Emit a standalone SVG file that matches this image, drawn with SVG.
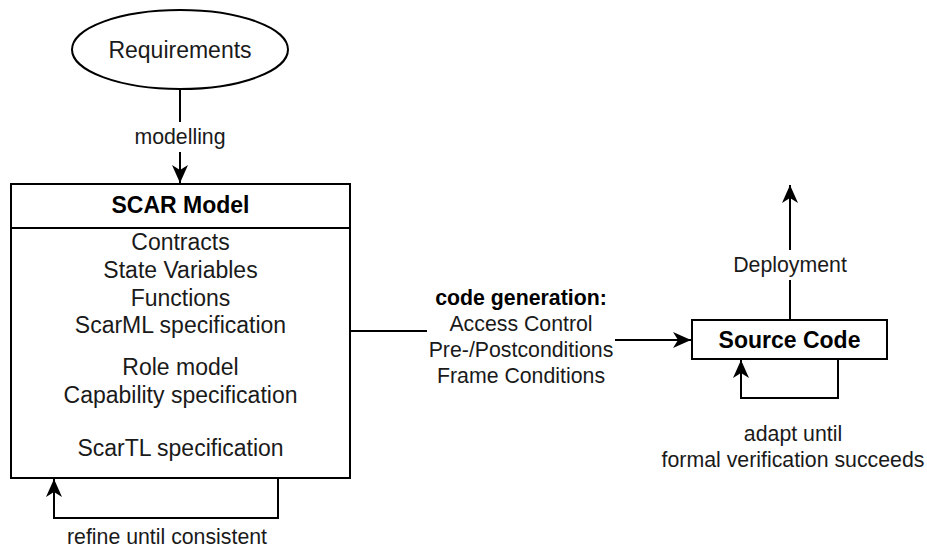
<svg xmlns="http://www.w3.org/2000/svg" width="927" height="550" viewBox="0 0 927 550">
<style>
.shape{fill:#fff;stroke:#000;stroke-width:2}
.edge{fill:none;stroke:#000;stroke-width:2}
text{font-family:"Liberation Sans",Arial,sans-serif;fill:#1a1a1a;text-anchor:middle;dominant-baseline:central}
.n{font-size:23px}
.l{font-size:21.3px}
.b{font-weight:bold;fill:#000}
</style>
<defs>
<marker id="arr" markerUnits="userSpaceOnUse" markerWidth="24" markerHeight="20" viewBox="-20 -10 24 20" refX="0" refY="0" orient="auto">
<path d="M0,0 L-18,-8 L-13,0 L-18,8 Z" fill="#000"/>
</marker>
</defs>
<g id="connectors">
<path class="edge" d="M180,89 V183" marker-end="url(#arr)"/>
<rect x="133" y="122" width="94" height="30" fill="#fff"/>
<text class="l" x="180" y="136.5">modelling</text>
<path class="edge" d="M350,331 H521 V340 H691" marker-end="url(#arr)"/>
<rect x="427" y="284" width="188" height="106" fill="#fff"/>
<text class="l b" x="521" y="298">code generation:</text>
<text class="l" x="521" y="323.5">Access Control</text>
<text class="l" x="521" y="349.5">Pre-/Postconditions</text>
<text class="l" x="521" y="375.5">Frame Conditions</text>
<path class="edge" d="M278,478 V518 H54 V479" marker-end="url(#arr)"/>
<text class="l" x="167" y="537">refine until consistent</text>
<path class="edge" d="M790,320 V185" marker-end="url(#arr)"/>
<rect x="732" y="250" width="116" height="30" fill="#fff"/>
<text class="l" x="790" y="265">Deployment</text>
<path class="edge" d="M838,359 V398 H741 V360" marker-end="url(#arr)"/>
<text class="l" x="793" y="433.5">adapt until</text>
<text class="l" x="793" y="460">formal verification succeeds</text>
</g>
<g id="requirements">
<ellipse class="shape" cx="180" cy="49.5" rx="108" ry="39.5"/>
<text class="n" x="180" y="49.5">Requirements</text>
</g>
<g id="scar-model">
<rect class="shape" x="11" y="184" width="339" height="294"/>
<line class="edge" x1="11" y1="228" x2="350" y2="228"/>
<text class="n b" x="180.5" y="204.5">SCAR Model</text>
<text class="n" x="180.5" y="242">Contracts</text>
<text class="n" x="180.5" y="269.5">State Variables</text>
<text class="n" x="180.5" y="297.5">Functions</text>
<text class="n" x="180.5" y="325">ScarML specification</text>
<text class="n" x="180.5" y="366.5">Role model</text>
<text class="n" x="180.5" y="395">Capability specification</text>
<text class="n" x="180.5" y="447.5">ScarTL specification</text>
</g>
<g id="source-code">
<rect class="shape" x="692" y="320" width="195" height="39"/>
<text class="n b" x="789.5" y="339.5">Source Code</text>
</g>
</svg>
